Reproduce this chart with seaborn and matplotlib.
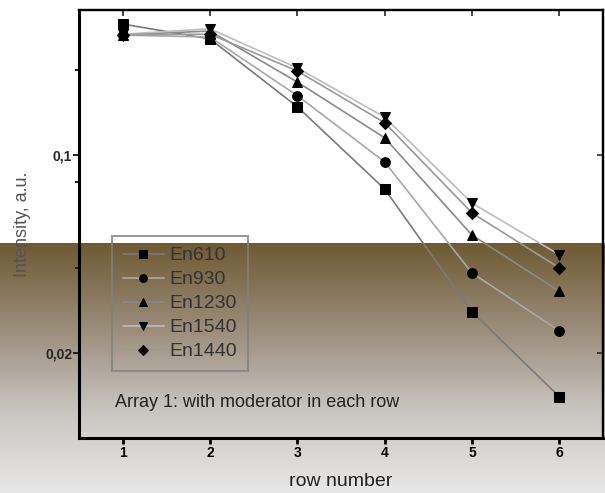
import numpy as np
import pandas as pd
import matplotlib
matplotlib.use("Agg")
import matplotlib.pyplot as plt
import seaborn as sns
from matplotlib.ticker import FixedLocator, NullFormatter

# Values (log scale)
rows = [1, 2, 3, 4, 5, 6]
en610 = [0.290, 0.257, 0.148, 0.0758, 0.0279, 0.0140]
en930 = [0.265, 0.261, 0.162, 0.0945, 0.0383, 0.0239]
en1230 = [0.266, 0.274, 0.181, 0.115, 0.0521, 0.0330]
en1540 = [0.267, 0.279, 0.203, 0.136, 0.0676, 0.0444]
en1440 = [0.266, 0.267, 0.198, 0.130, 0.0624, 0.0399]

series_names = ["En610", "En930", "En1230", "En1540", "En1440"]
series_values = [en610, en930, en1230, en1540, en1440]
markers = ["s", "o", "^", "v", "D"]
line_colors = ["#7a7a7a", "#a8a8a8", "#8a8a8a", "#bdbdbd", "#9a9a9a"]

df = pd.DataFrame({
    "row": rows * len(series_names),
    "intensity": sum(series_values, []),
    "series": [n for n in series_names for _ in rows],
})

sns.set_style("ticks")
plt.rcParams["font.family"] = ["Liberation Sans", "DejaVu Sans"]

fig = plt.figure(figsize=(6.05, 4.93), dpi=100)

# background: white top, brown-to-grey gradient on lower part
H = 493
stops_y = [0, 243, 243, 340, 410, 493]
stops_c = np.array([[255, 255, 255], [255, 255, 255], [110, 89, 50],
                    [160, 148, 132], [200, 197, 193], [232, 232, 232]]) / 255.0
ys = np.arange(H)
grad = np.zeros((H, 1, 3))
for c in range(3):
    grad[:, 0, c] = np.interp(ys + 0.5, stops_y, stops_c[:, c])
bg = fig.add_axes([0, 0, 1, 1], zorder=-1)
bg.imshow(grad, extent=[0, 1, 0, 1], aspect="auto", interpolation="nearest")
bg.axis("off")

ax = fig.add_axes([0.1306, 0.1116, 0.866, 0.868])
ax.patch.set_alpha(0)

for name, mk, col in zip(series_names, markers, line_colors):
    sub = df[df["series"] == name]
    sns.lineplot(data=sub, x="row", y="intensity", ax=ax, color=col,
                 linewidth=1.2, marker=mk, markersize=7 if mk != "D" else 6,
                 markerfacecolor="black", markeredgecolor="black",
                 label=name)

ax.set_yscale("log")
ax.set_xlim(0.5, 6.5)
ax.set_ylim(0.01, 0.325)

ax.xaxis.set_major_locator(FixedLocator(rows))
ax.set_xticklabels([str(r) for r in rows], fontweight="bold", fontsize=10)
ax.yaxis.set_major_locator(FixedLocator([0.02, 0.1]))
ax.set_yticklabels(["0,02", "0,1"], fontweight="bold", fontsize=10)
ax.yaxis.set_minor_locator(FixedLocator([0.04, 0.08, 0.2]))
ax.yaxis.set_minor_formatter(NullFormatter())

ax.tick_params(axis="x", which="major", direction="out", length=4, width=2,
               pad=2, colors="black")
ax.tick_params(axis="y", which="major", direction="out", length=4, width=1.5,
               pad=1)
ax.tick_params(axis="y", which="minor", direction="out", length=3, width=1.5)

# inward ticks on top and right
top = ax.secondary_xaxis("top")
top.set_xticks(rows)
top.tick_params(direction="in", length=4, width=1.2, labeltop=False)
top.spines["top"].set_linewidth(1.6)
right = ax.secondary_yaxis("right")
right.set_yticks([0.02, 0.1])
right.yaxis.set_minor_locator(FixedLocator([]))
right.tick_params(direction="in", length=4, width=1.2, labelright=False)
right.spines["right"].set_linewidth(1.6)

for s in ["left", "bottom"]:
    ax.spines[s].set_linewidth(2.2)
for s in ["top", "right"]:
    ax.spines[s].set_linewidth(1.6)
    ax.spines[s].set_visible(True)
for s in ax.spines.values():
    s.set_color("black")

ax.set_xlabel("row number", fontsize=14, color="#222222", labelpad=9)
ax.set_ylabel("Intensity, a.u.", fontsize=13, color="#555555", labelpad=10)

ax.text(0.068, 0.073, "Array 1: with moderator in each row",
        transform=ax.transAxes, fontsize=13, color="#222222")

leg = ax.legend(loc="upper left", bbox_to_anchor=(0.063, 0.472),
                borderaxespad=0, frameon=True, fancybox=False,
                handlelength=2.1, handletextpad=0.3, labelspacing=0.33,
                fontsize=14, borderpad=0.55, markerscale=0.8)
leg.get_frame().set_facecolor("none")
leg.get_frame().set_edgecolor("#808080")
leg.get_frame().set_linewidth(1.5)
for t in leg.get_texts():
    t.set_color("#333333")

fig.savefig("out.png", dpi=100)
